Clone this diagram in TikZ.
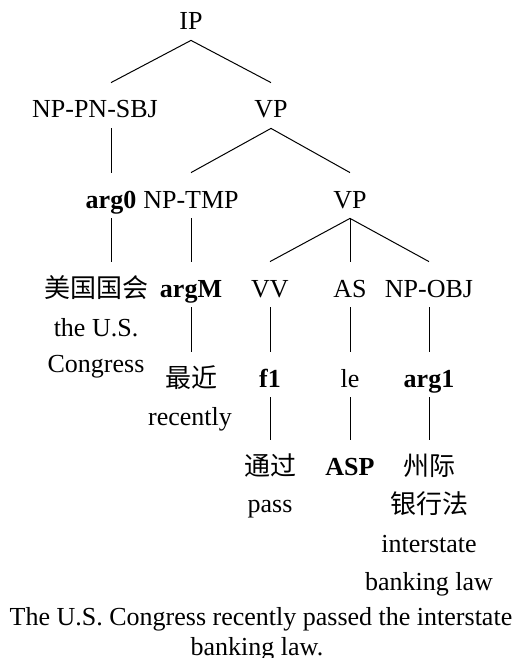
\documentclass[tikz,border=0pt]{standalone}
\usepackage{fontspec}
\setmainfont{Liberation Serif}
\newfontfamily\cjk{Noto Sans CJK SC}
\usepackage{tikz}
\usetikzlibrary{positioning}

\tikzset{
  tag/.style={anchor=base, inner sep=0pt, text height=17.5pt, text depth=5pt},
  gloss/.style={anchor=base, inner sep=0pt},
  branch/.style={line width=0.5pt},
}

\begin{document}
\begin{tikzpicture}[x=0.5pt, y=-0.5pt, font=\fontsize{13}{15.6}\selectfont]
        \useasboundingbox (0,0) rectangle (524,658);
        % tree labels
        \node[tag] (ip) at (191,30) {IP};
        \node[tag] (sbj) at (95,118) {NP-PN-SBJ};
        \node[tag] (vpa) at (271,118) {VP};
        \node[tag] (arg0) at (111,208) {\textbf{arg0}};
        \node[tag] (tmp) at (191,208) {NP-TMP};
        \node[tag] (vpb) at (350,208) {VP};
        \node[tag] (congress) at (96,297) {\cjk 美国国会};
        \node[tag] (argM) at (191,297) {\textbf{argM}};
        \node[tag] (vv) at (270,297) {VV};
        \node[tag] (as) at (350,297) {AS};
        \node[tag] (obj) at (429,297) {NP-OBJ};
        \node[tag] (recent) at (191,387) {\cjk 最近};
        \node[tag] (f1) at (270,387) {\textbf{f1}};
        \node[tag] (le) at (350,387) {le};
        \node[tag] (arg1) at (429,387) {\textbf{arg1}};
        \node[tag] (pass) at (270,475) {\cjk 通过};
        \node[tag] (asp) at (350,475) {\textbf{ASP}};
        \node[tag] (law) at (429,475) {\cjk 州际};
        % glosses
        \node[gloss] (usg) at (96,336) {the U.S.};
        \node[gloss] (congg) at (96,372) {Congress};
        \node[gloss] (recg) at (190,425) {recently};
        \node[gloss] (passg) at (270,512) {pass};
        \node[gloss] (lawb) at (429,513) {\cjk 银行法};
        \node[gloss] (lawg) at (429,552) {interstate};
        \node[gloss] (lawh) at (429,590) {banking law};
        \node[gloss] (capa) at (261,625) {The U.S. Congress recently passed the interstate};
        \node[gloss] (capb) at (257,655) {banking law.};
        % branches
        \draw[branch] (sbj.north -| arg0) -- (ip.south) -- (vpa.north);
        \draw[branch] (sbj.south -| arg0) -- (arg0.north);
        \draw[branch] (tmp.north) -- (vpa.south) -- (vpb.north);
        \draw[branch] (arg0.south) -- (congress.north -| arg0);
        \draw[branch] (tmp.south) -- (argM.north);
        \draw[branch] (vv.north) -- (vpb.south) -- (obj.north);
        \draw[branch] (vpb.south) -- (as.north);
        \draw[branch] (argM.south) -- (recent.north);
        \draw[branch] (vv.south) -- (f1.north);
        \draw[branch] (as.south) -- (le.north);
        \draw[branch] (obj.south) -- (arg1.north);
        \draw[branch] (f1.south) -- (pass.north);
        \draw[branch] (le.south) -- (asp.north);
        \draw[branch] (arg1.south) -- (law.north);
\end{tikzpicture}
\end{document}
